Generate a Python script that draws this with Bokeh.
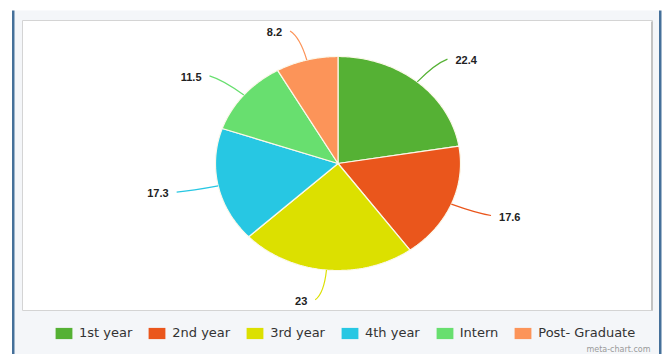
import numpy as np
from bokeh.plotting import figure
from bokeh.models import Range1d, ColumnDataSource, Legend, LegendItem
from bokeh.core.properties import value
from bokeh.embed import file_html
from bokeh.resources import INLINE

# ---- data ----
categories = ["1st year", "2nd year", "3rd year", "4th year", "Intern", "Post- Graduate"]
values = [22.4, 17.6, 23, 17.3, 11.5, 8.2]
labels = ["22.4", "17.6", "23", "17.3", "11.5", "8.2"]
colors = ["#55b134", "#ea561c", "#dce000", "#27c7e3", "#68df6f", "#fc9459"]

W, H = 665, 354
p = figure(width=W, height=H, x_range=Range1d(0, W), y_range=Range1d(H, 0),
           output_backend="svg", toolbar_location=None, min_border=0,
           x_axis_location=None, y_axis_location=None)
p.grid.visible = False
p.outline_line_color = None
p.background_fill_color = "white"
p.border_fill_color = "white"

# page background and frame decorations
p.quad(left=[14], right=[659], top=[10], bottom=[H], fill_color="#f4f6f9", line_color=None)
p.quad(left=[11.5, 658.5], right=[14, 661], top=[10, 10], bottom=[H, H], fill_color="#45709a", line_color=None)
p.quad(left=[22], right=[652], top=[20], bottom=[310], fill_color="white", line_color="#d4d4d4", line_width=1)
p.quad(left=[650.5], right=[652.5], top=[21], bottom=[310], fill_color="#c2c2c2", line_color=None)

# ---- pie ----
cx, cy, rx, ry = 337.5, 163.0, 122.5, 107.0
vals = np.array(values, dtype=float)
frac = vals / vals.sum()
ends = np.cumsum(frac) * 2 * np.pi
starts = ends - frac * 2 * np.pi
mids = (starts + ends) / 2

xs, ys = [], []
for a0, a1 in zip(starts, ends):
    t = np.linspace(a0, a1, 90)
    xs.append([cx] + list(cx + rx * np.sin(t)))
    ys.append([cy] + list(cy - ry * np.cos(t)))

src = ColumnDataSource(dict(xs=xs, ys=ys, color=colors, cat=categories))
pie = p.patches("xs", "ys", source=src, fill_color="color", line_color="#fbf8ea", line_width=1.2)

# legend swatches (no outline)
leg_src = ColumnDataSource(dict(x=[np.nan] * len(colors), y=[np.nan] * len(colors), color=colors))
swatch = p.rect("x", "y", width=1, height=1, source=leg_src, fill_color="color", line_color=None)

# ---- leader lines and labels ----
sx, sy = np.sin(mids), -np.cos(mids)
side = np.where(sx >= 0, 1.0, -1.0)
x0, y0 = cx + rx * 1.0 * sx, cy + ry * 1.0 * sy
qx, qy = cx + rx * 1.22 * sx, cy + ry * 1.22 * sy
ex, ey = cx + rx * 1.28 * sx + 8 * side, cy + ry * 1.28 * sy
p.quadratic(x0=x0, y0=y0, x1=ex, y1=ey, cx=qx, cy=qy, line_color=colors, line_width=1.2)

tx = ex + 8 * side
align = ["left" if s > 0 else "right" for s in side]
lsrc = ColumnDataSource(dict(x=tx, y=ey + 1, t=labels, align=align))
p.text("x", "y", text="t", source=lsrc, text_align="align", text_baseline="middle",
       text_font=value("Liberation Sans"), text_font_style="bold", text_font_size="11px",
       text_color="#222222")

# ---- legend ----
items = [LegendItem(label=c, renderers=[swatch], index=i) for i, c in enumerate(categories)]
legend = Legend(items=items, orientation="horizontal", location=(53, 14),
                glyph_width=21, glyph_height=14, label_standoff=5, spacing=14,
                padding=0, margin=0, border_line_alpha=0, background_fill_alpha=0,
                label_text_font="DejaVu Sans", label_text_font_size="13px",
                label_text_color="#333333", label_height=14)
p.add_layout(legend, "center")

p.text(x=[650], y=[349], text=["meta-chart.com"], text_align="right", text_baseline="middle",
       text_font=value("DejaVu Sans"), text_font_size="8px", text_color="#9a9a9a")

open("out.html", "w").write(file_html(p, INLINE))
